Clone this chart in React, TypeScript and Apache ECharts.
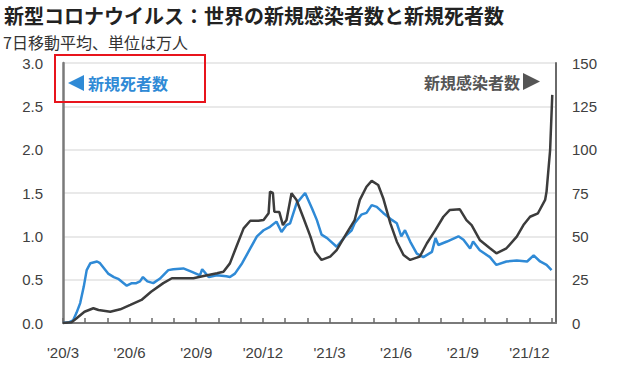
import React, { useEffect, useRef } from 'react';
import * as echarts from 'echarts';

const titleText = '新型コロナウイルス：世界の新規感染者数と新規死者数';
const subtitleText = '7日移動平均、単位は万人';
const deathLegend = '新規死者数';
const caseLegend = '新規感染者数';

const monthLabels = ["'20/3", "'20/6", "'20/9", "'20/12", "'21/3", "'21/6", "'21/9", "'21/12"];
const leftTicks = [0, 0.5, 1, 1.5, 2, 2.5, 3];
const rightTicks = [0, 25, 50, 75, 100, 125, 150];

// 新規死者数（万人, 左軸）
const deathDates = [
  '2020-03-01', '2020-03-10', '2020-03-15', '2020-03-20', '2020-03-25', '2020-03-30', '2020-04-03', '2020-04-08',
  '2020-04-17', '2020-04-21', '2020-05-02', '2020-05-10', '2020-05-16', '2020-05-28', '2020-06-04', '2020-06-10',
  '2020-06-15', '2020-06-19', '2020-06-25', '2020-07-03', '2020-07-12', '2020-07-24', '2020-07-31', '2020-08-14',
  '2020-08-26', '2020-09-06', '2020-09-09', '2020-09-18', '2020-09-29', '2020-10-12', '2020-10-17', '2020-10-24',
  '2020-11-03', '2020-11-14', '2020-11-23', '2020-12-02', '2020-12-11', '2020-12-20', '2020-12-27', '2021-01-03',
  '2021-01-08', '2021-01-17', '2021-01-29', '2021-02-07', '2021-02-13', '2021-02-19', '2021-02-26', '2021-03-11',
  '2021-03-23', '2021-04-01', '2021-04-05', '2021-04-14', '2021-04-21', '2021-04-28', '2021-05-05', '2021-05-14',
  '2021-05-26', '2021-06-02', '2021-06-08', '2021-06-13', '2021-06-20', '2021-06-29', '2021-07-08', '2021-07-20',
  '2021-07-25', '2021-07-29', '2021-08-10', '2021-08-26', '2021-09-02', '2021-09-11', '2021-09-15', '2021-09-24',
  '2021-10-08', '2021-10-17', '2021-10-31', '2021-11-14', '2021-11-28', '2021-12-07', '2021-12-16', '2021-12-25',
  '2022-01-01',
];
const deathValues = [
  0, 0.01, 0.03, 0.12, 0.23, 0.42, 0.61, 0.69,
  0.71, 0.69, 0.57, 0.53, 0.51, 0.43, 0.46, 0.46,
  0.48, 0.53, 0.48, 0.46, 0.51, 0.61, 0.62, 0.63,
  0.59, 0.55, 0.62, 0.53, 0.55, 0.54, 0.53, 0.57,
  0.69, 0.86, 1.0, 1.07, 1.11, 1.17, 1.05, 1.13,
  1.15, 1.38, 1.5, 1.32, 1.19, 1.02, 0.98, 0.88,
  1.0, 1.07, 1.15, 1.25, 1.27, 1.36, 1.34, 1.27,
  1.19, 1.15, 1.0, 1.07, 0.94, 0.8, 0.76, 0.82,
  0.98, 0.9, 0.94, 1.0, 0.96, 0.86, 0.94, 0.84,
  0.76, 0.67, 0.71, 0.72, 0.71, 0.78, 0.71, 0.67,
  0.61,
];

// 新規感染者数（万人, 右軸）
const caseDates = [
  '2020-03-01', '2020-03-13', '2020-03-20', '2020-03-31', '2020-04-12', '2020-04-19', '2020-05-05', '2020-05-19',
  '2020-06-02', '2020-06-17', '2020-06-30', '2020-07-17', '2020-07-29', '2020-08-14', '2020-08-28', '2020-09-11',
  '2020-09-29', '2020-10-08', '2020-10-17', '2020-10-26', '2020-11-05', '2020-11-14', '2020-11-25', '2020-12-02',
  '2020-12-09', '2020-12-11', '2020-12-15', '2020-12-17', '2020-12-24', '2020-12-29', '2021-01-03', '2021-01-10',
  '2021-01-17', '2021-01-26', '2021-02-05', '2021-02-11', '2021-02-19', '2021-03-02', '2021-03-11', '2021-03-25',
  '2021-04-05', '2021-04-12', '2021-04-21', '2021-04-28', '2021-05-07', '2021-05-14', '2021-05-24', '2021-06-02',
  '2021-06-11', '2021-06-20', '2021-07-03', '2021-07-13', '2021-07-25', '2021-08-05', '2021-08-14', '2021-08-28',
  '2021-09-06', '2021-09-13', '2021-09-24', '2021-10-08', '2021-10-17', '2021-10-31', '2021-11-14', '2021-11-23',
  '2021-12-02', '2021-12-13', '2021-12-23', '2021-12-25', '2021-12-30', '2022-01-02',
];
const caseValues = [
  0, 0.5, 2.7, 6.5, 8.5, 7.5, 6.5, 7.9,
  10.4, 13.3, 18, 23, 25.8, 25.8, 25.8, 27.1,
  28.7, 29.6, 34.4, 44, 54.6, 59, 59, 59.4,
  63.3, 75.8, 75, 64.2, 64, 56.5, 59.4, 74.8,
  71, 61.3, 49.8, 41.1, 36.4, 38.3, 42.1, 51.8,
  59.4, 71, 78.6, 82, 79.6, 72, 57.5, 46.9,
  39.2, 36.4, 38.3, 46, 53.7, 61.3, 65.2, 65.6,
  59.4, 56.5, 47.9, 43.1, 40.2, 43.1, 49.8, 56.5,
  61.3, 63.3, 71, 75.8, 99.8, 131.6,
];

// months elapsed since 2020-03-01
function toMonth(d: string): number {
  const [y, m, day] = d.split('-').map(Number);
  const dim = new Date(y, m, 0).getDate();
  return (y - 2020) * 12 + (m - 3) + (day - 1) / dim;
}

const JP = '"Noto Sans CJK JP", "Noto Sans", sans-serif';
const NUM = '"Liberation Sans", Arial, sans-serif';

export default function App() {
  const ref = useRef<HTMLDivElement>(null);
  useEffect(() => {
    const chart = echarts.init(ref.current!, null, { renderer: 'svg' });
    chart.setOption({
      animation: false,
      backgroundColor: '#ffffff',
      grid: { left: 63, right: 61, top: 63, bottom: 42 },
      xAxis: {
        type: 'value',
        min: 0,
        max: 22.2,
        interval: 1,
        axisLine: { show: true, lineStyle: { color: '#7a7a7a', width: 2 } },
        axisTick: { show: true, inside: true, length: 5, lineStyle: { color: '#6a6a6a', width: 1.5 } },
        splitLine: { show: false },
        axisLabel: {
          margin: 22,
          color: '#404040',
          fontSize: 15,
          fontFamily: NUM,
          showMaxLabel: false,
          formatter: (v: number) => (Number.isInteger(v) && v % 3 === 0 ? monthLabels[v / 3] ?? '' : ''),
        },
      },
      yAxis: [
        {
          type: 'value',
          min: leftTicks[0],
          max: leftTicks[leftTicks.length - 1],
          interval: 0.5,
          axisLine: { show: true, lineStyle: { color: '#7a7a7a', width: 2.5 } },
          axisTick: { show: false },
          splitLine: { show: true, lineStyle: { color: '#e2e2e2', width: 1.5 } },
          axisLabel: { margin: 20, color: '#404040', fontSize: 15, fontFamily: NUM, formatter: (v: number) => v.toFixed(1) },
        },
        {
          type: 'value',
          min: rightTicks[0],
          max: rightTicks[rightTicks.length - 1],
          interval: 25,
          position: 'right',
          axisLine: { show: true, lineStyle: { color: '#6a6a6a', width: 2 } },
          axisTick: { show: false },
          splitLine: { show: false },
          axisLabel: { margin: 16, color: '#404040', fontSize: 15, fontFamily: NUM },
        },
      ],
      series: [
        {
          name: deathLegend,
          type: 'line',
          yAxisIndex: 0,
          showSymbol: false,
          data: deathDates.map((d, i) => [toMonth(d), deathValues[i]]),
          lineStyle: { color: '#2f8ad6', width: 2.5 },
          itemStyle: { color: '#2f8ad6' },
          z: 2,
        },
        {
          name: caseLegend,
          type: 'line',
          yAxisIndex: 1,
          showSymbol: false,
          data: caseDates.map((d, i) => [toMonth(d), caseValues[i]]),
          lineStyle: { color: '#3c3c3c', width: 2.5 },
          itemStyle: { color: '#3c3c3c' },
          z: 3,
        },
      ],
      graphic: [
        { type: 'text', x: 4, y: 15, style: { text: titleText, fill: '#222', font: `bold 20px ${JP}`, lineHeight: 20, verticalAlign: 'middle' } },
        { type: 'text', x: 3, y: 41.5, style: { text: subtitleText, fill: '#333', font: `16px ${JP}`, lineHeight: 16, verticalAlign: 'middle' } },
        { type: 'rect', shape: { x: 55, y: 55, width: 150, height: 47 }, style: { fill: 'none', stroke: '#e8141c', lineWidth: 2 }, z: 100 },
        { type: 'polygon', shape: { points: [[68, 83], [84, 75], [84, 91]] }, style: { fill: '#2f8ad6' }, z: 100 },
        { type: 'text', x: 88, y: 83, style: { text: deathLegend, fill: '#2f8ad6', font: `bold 16px ${JP}`, verticalAlign: 'middle' }, z: 100 },
        { type: 'text', x: 520, y: 82, style: { text: caseLegend, fill: '#555', font: `bold 16px ${JP}`, align: 'right', verticalAlign: 'middle' }, z: 100 },
        { type: 'polygon', shape: { points: [[523, 73], [523, 90], [540, 81.5]] }, style: { fill: '#555' }, z: 100 },
      ],
    });
    return () => chart.dispose();
  }, []);
  return <div ref={ref} style={{ position: 'absolute', left: 0, top: 0, width: 617, height: 365, background: '#fff' }} />;
}
